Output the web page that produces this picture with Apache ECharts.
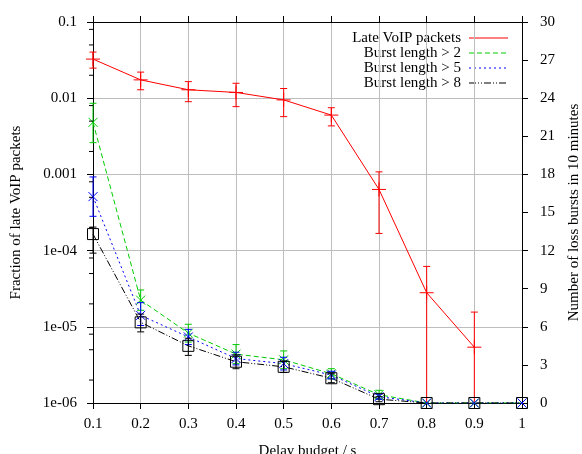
<!DOCTYPE html>
<html>
<head>
<meta charset="utf-8">
<script src="https://cdn.jsdelivr.net/npm/echarts@6/dist/echarts.min.js"></script>
<style>
  html, body { margin: 0; padding: 0; background: #fff; }
  #chart { width: 582px; height: 454px; }
</style>
</head>
<body>
<div id="chart"></div>
<script>
// Delay budget (s) on the x axis
const delays = [0.1, 0.2, 0.3, 0.4, 0.5, 0.6, 0.7, 0.8, 0.9, 1.0];

// Fraction of late VoIP packets (left, log axis); no point at 1.0 s
const lateFraction = [0.0326, 0.0174, 0.0129, 0.0119, 0.0095, 0.0060, 0.000635, 2.8e-5, 5.4e-6, null];
const lateLow      = [0.0248, 0.0129, 0.0090, 0.00775, 0.00573, 0.00433, 0.000168, 0, 0, null];
const lateHigh     = [0.0403, 0.0220, 0.0165, 0.0157, 0.0134, 0.0075, 0.00108, 6.2e-5, 1.56e-5, null];

// Number of loss bursts in 10 minutes (right axis)
const burst2     = [22.1, 8.1, 5.5, 3.85, 3.4, 2.3, 0.65, 0, 0, 0];
const burst2Low  = [20.5, 7.3, 4.8, 3.1, 2.7, 1.9, 0.3, 0, 0, 0];
const burst2High = [23.6, 8.9, 6.2, 4.6, 4.1, 2.7, 1.0, 0, 0, 0];

const burst5     = [16.25, 6.9, 5.2, 3.5, 3.1, 2.2, 0.5, 0, 0, 0];
const burst5Low  = [14.7, 6.1, 4.6, 3.0, 2.6, 1.9, 0.3, 0, 0, 0];
const burst5High = [17.8, 7.9, 5.8, 4.0, 3.6, 2.5, 0.7, 0, 0, 0];

const burst8     = [13.3, 6.35, 4.5, 3.25, 2.85, 1.95, 0.3, 0, 0, 0];
const burst8Low  = [11.8, 5.6, 3.75, 2.7, 2.4, 1.6, 0.1, 0, 0, 0];
const burst8High = [13.85, 7.0, 5.1, 3.8, 3.3, 2.3, 0.5, 0, 0, 0];

// Axis tick labels
const leftTickLabels = ['1e-06', '1e-05', '1e-04', '0.001', '0.01', '0.1'];
const leftMinorTicks = [2e-6, 5e-6, 8e-6, 2e-5, 5e-5, 8e-5, 2e-4, 5e-4, 8e-4,
                        2e-3, 5e-3, 8e-3, 2e-2, 5e-2, 8e-2];

const seriesNames = ['Late VoIP packets', 'Burst length > 2', 'Burst length > 5', 'Burst length > 8'];
const axisTitles = {
  x: 'Delay budget / s',
  left: 'Fraction of late VoIP packets',
  right: 'Number of loss bursts in 10 minutes'
};

const FONT = "'Liberation Serif', 'DejaVu Serif', serif";
const LOG_MIN = 1e-6;
const colors = ['#ff0000', '#00cc00', '#0000ff', '#000000'];
const dashes = [null, [5, 3], [2, 3], [7, 2, 1, 2, 1, 2]];

function rows(ys, lo, hi) {
  const out = [];
  delays.forEach((d, i) => {
    if (ys[i] != null) out.push([d, ys[i], lo[i], hi[i]]);
  });
  return out;
}
function linePts(ys) {
  const out = [];
  delays.forEach((d, i) => { if (ys[i] != null) out.push([d, ys[i]]); });
  return out;
}

// Error bar plus point marker, drawn through the axis scales
function errorRenderer(color, marker, isLog) {
  return function (params, api) {
    const x = api.value(0), y = api.value(1);
    let lo = api.value(2), hi = api.value(3);
    if (isLog) lo = Math.max(lo, LOG_MIN);
    const p = api.coord([x, y]);
    const pl = api.coord([x, lo]);
    const ph = api.coord([x, hi]);
    const st = { stroke: color, lineWidth: 1, fill: null };
    const kids = [];
    const cap = 3.5;
    if (hi !== lo) {
      kids.push({ type: 'line', shape: { x1: pl[0], y1: pl[1], x2: ph[0], y2: ph[1] }, style: st });
      kids.push({ type: 'line', shape: { x1: ph[0] - cap, y1: ph[1], x2: ph[0] + cap, y2: ph[1] }, style: st });
      if (!(isLog && lo <= LOG_MIN)) {
        kids.push({ type: 'line', shape: { x1: pl[0] - cap, y1: pl[1], x2: pl[0] + cap, y2: pl[1] }, style: st });
      }
    }
    if (marker === 'plus') {
      const s = 7;
      kids.push({ type: 'line', shape: { x1: p[0] - s, y1: p[1], x2: p[0] + s, y2: p[1] }, style: st });
      kids.push({ type: 'line', shape: { x1: p[0], y1: p[1] - s, x2: p[0], y2: p[1] + s }, style: st });
    } else if (marker === 'cross') {
      const s = 4.5;
      kids.push({ type: 'line', shape: { x1: p[0] - s, y1: p[1] - s, x2: p[0] + s, y2: p[1] + s }, style: st });
      kids.push({ type: 'line', shape: { x1: p[0] - s, y1: p[1] + s, x2: p[0] + s, y2: p[1] - s }, style: st });
    } else if (marker === 'square') {
      const s = 5.5;
      kids.push({ type: 'rect', shape: { x: p[0] - s, y: p[1] - s, width: 2 * s, height: 2 * s }, style: st });
    }
    return { type: 'group', children: kids };
  };
}

// Short log-axis minor ticks on the outside of the left axis
function minorTickRenderer(params, api) {
  const p = api.coord([delays[0], api.value(1)]);
  return {
    type: 'line',
    shape: { x1: p[0] - 4, y1: p[1], x2: p[0], y2: p[1] },
    style: { stroke: '#000', lineWidth: 1 }
  };
}

const chart = echarts.init(document.getElementById('chart'), null, { renderer: 'canvas' });

const xCommon = {
  type: 'value', min: 0.1, max: 1, interval: 0.1,
  axisLine: { show: true, lineStyle: { color: '#000', width: 1 } },
  axisTick: { show: true, inside: false, length: 6, lineStyle: { color: '#000' } }
};

// Legend drawn as right-aligned text with line samples
const legendGraphics = [];
seriesNames.forEach((name, i) => {
  const y = 38 + i * 15;
  legendGraphics.push({
    type: 'text', x: 461, y: y,
    style: { text: name, textAlign: 'right', textVerticalAlign: 'middle', font: '15px ' + FONT, fill: '#000' }
  });
  legendGraphics.push({
    type: 'line', shape: { x1: 469, y1: y, x2: 508, y2: y },
    style: { stroke: colors[i], lineWidth: 1, lineDash: dashes[i] || null }
  });
});

const option = {
  animation: false,
  backgroundColor: '#fff',
  textStyle: { fontFamily: FONT },
  grid: { left: 93, right: 60, top: 22, bottom: 51, containLabel: false, outerBoundsMode: 'none' },
  xAxis: [
    Object.assign({}, xCommon, {
      position: 'bottom',
      name: axisTitles.x, nameLocation: 'middle', nameGap: 41,
      nameTextStyle: { fontFamily: FONT, fontSize: 15, color: '#000' },
      axisLabel: { margin: 14, fontFamily: FONT, fontSize: 15, color: '#000',
        formatter: v => String(Number(v.toFixed(1))) },
      splitLine: { show: true, lineStyle: { color: '#bdbdbd', width: 1 } }
    }),
    Object.assign({}, xCommon, {
      position: 'top',
      axisLabel: { show: false },
      splitLine: { show: false }
    })
  ],
  yAxis: [
    {
      type: 'log', logBase: 10, min: LOG_MIN, max: 0.1, splitNumber: 5,
      position: 'left',
      name: axisTitles.left, nameLocation: 'middle', nameGap: 69, nameRotate: 90,
      nameTextStyle: { fontFamily: FONT, fontSize: 15, color: '#000' },
      axisLine: { show: true, lineStyle: { color: '#000', width: 1 } },
      axisTick: { show: true, inside: false, length: 6, lineStyle: { color: '#000' } },
      axisLabel: { margin: 16, fontFamily: FONT, fontSize: 15, color: '#000',
        formatter: v => leftTickLabels[Math.round(Math.log10(v)) + 6] || '' },
      splitLine: { show: true, lineStyle: { color: '#bdbdbd', width: 1 } }
    },
    {
      type: 'value', min: 0, max: 30, interval: 3,
      position: 'right',
      name: axisTitles.right, nameLocation: 'middle', nameGap: 45, nameRotate: 90,
      nameTextStyle: { fontFamily: FONT, fontSize: 15, color: '#000' },
      axisLine: { show: true, lineStyle: { color: '#000', width: 1 } },
      axisTick: { show: true, inside: false, length: 6, lineStyle: { color: '#000' } },
      axisLabel: { margin: 18, fontFamily: FONT, fontSize: 15, color: '#000' },
      splitLine: { show: false }
    }
  ],
  graphic: legendGraphics,
  series: [
    {
      name: seriesNames[0], type: 'line', xAxisIndex: 0, yAxisIndex: 0,
      data: linePts(lateFraction), showSymbol: false, symbol: 'none',
      lineStyle: { color: colors[0], width: 1 }, z: 3
    },
    {
      name: seriesNames[1], type: 'line', xAxisIndex: 0, yAxisIndex: 1,
      data: linePts(burst2), showSymbol: false, symbol: 'none',
      lineStyle: { color: colors[1], width: 1, type: dashes[1] }, z: 3
    },
    {
      name: seriesNames[2], type: 'line', xAxisIndex: 0, yAxisIndex: 1,
      data: linePts(burst5), showSymbol: false, symbol: 'none',
      lineStyle: { color: colors[2], width: 1, type: dashes[2] }, z: 3
    },
    {
      name: seriesNames[3], type: 'line', xAxisIndex: 0, yAxisIndex: 1,
      data: linePts(burst8), showSymbol: false, symbol: 'none',
      lineStyle: { color: colors[3], width: 1, type: dashes[3] }, z: 3
    },
    {
      type: 'custom', xAxisIndex: 0, yAxisIndex: 0, clip: false, z: 4,
      encode: { x: 0, y: 1 },
      data: rows(lateFraction, lateLow, lateHigh),
      renderItem: errorRenderer(colors[0], 'plus', true)
    },
    {
      type: 'custom', xAxisIndex: 0, yAxisIndex: 1, clip: false, z: 4,
      encode: { x: 0, y: 1 },
      data: rows(burst2, burst2Low, burst2High),
      renderItem: errorRenderer(colors[1], 'cross', false)
    },
    {
      type: 'custom', xAxisIndex: 0, yAxisIndex: 1, clip: false, z: 4,
      encode: { x: 0, y: 1 },
      data: rows(burst5, burst5Low, burst5High),
      renderItem: errorRenderer(colors[2], 'cross', false)
    },
    {
      type: 'custom', xAxisIndex: 0, yAxisIndex: 1, clip: false, z: 4,
      encode: { x: 0, y: 1 },
      data: rows(burst8, burst8Low, burst8High),
      renderItem: errorRenderer(colors[3], 'square', false)
    },
    {
      type: 'custom', xAxisIndex: 0, yAxisIndex: 0, clip: false, silent: true, z: 5,
      encode: { x: 0, y: 1 },
      data: leftMinorTicks.map(v => [delays[0], v]),
      renderItem: minorTickRenderer
    }
  ]
};

chart.setOption(option);
</script>
</body>
</html>
